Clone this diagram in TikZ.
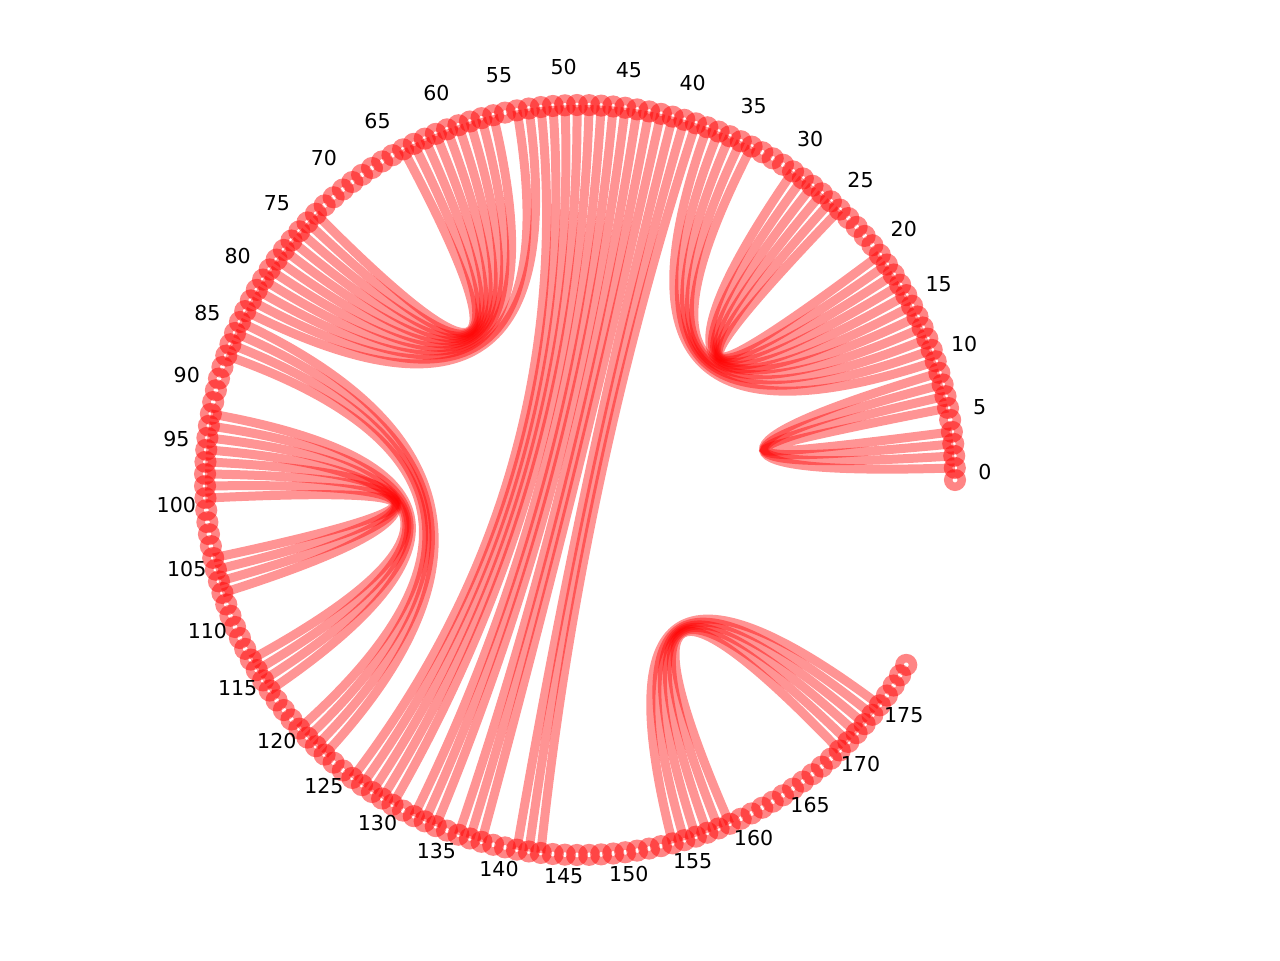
\documentclass[tikz,border=0pt]{standalone}
\usepackage{fontspec}
\setmainfont{DejaVu Sans}
\usetikzlibrary{calc}
\definecolor{arcred}{RGB}{255,0,0}

\begin{document}
\begin{tikzpicture}[x=0.02cm,y=0.02cm,
  arc/.style={draw=arcred,draw opacity=0.42,line width=0.18cm},
  ring/.style={draw=arcred,draw opacity=0.48,line width=0.17cm},
  lbl/.style={font=\fontsize{11.7}{14}\selectfont}]
\useasboundingbox (0,0) rectangle (1280,960);
\coordinate (c) at (580,480);
\foreach \i in {0,...,179}{
  \coordinate (n\i) at ($(c)+(\i/195*360:375)$);
}
% base pairs, one stem per line
\foreach \a/\b in {1/9,2/8,3/7,4/6,
  10/38,11/37,12/36,13/35,14/34,15/30,16/29,17/28,18/27,19/26,20/25,
  53/83,54/82,56/81,57/80,58/79,59/78,60/77,61/76,62/75,63/74,64/73,
  84/123,85/122,86/121,87/120,
  92/116,93/115,94/114,95/113,96/107,97/106,98/105,99/104,
  52/126,51/127,50/128,49/129,48/130,47/132,46/133,45/134,
  44/136,43/137,42/138,41/141,40/142,39/143,
  154/175,155/174,156/173,157/172,158/171,159/170}{
  \draw[arc] (n\a) .. controls ($(n\a)!2/3!(c)$) and ($(n\b)!2/3!(c)$) .. (n\b);
}
\foreach \i in {0,...,179}{
  \draw[ring] (n\i) circle (6.75);
}
\foreach \i in {0,5,...,175}{
  \node[lbl] (l\i) at ($(c)+(\i/195*360:405)+(0,8)$) {\i};
}
\end{tikzpicture}
\end{document}
